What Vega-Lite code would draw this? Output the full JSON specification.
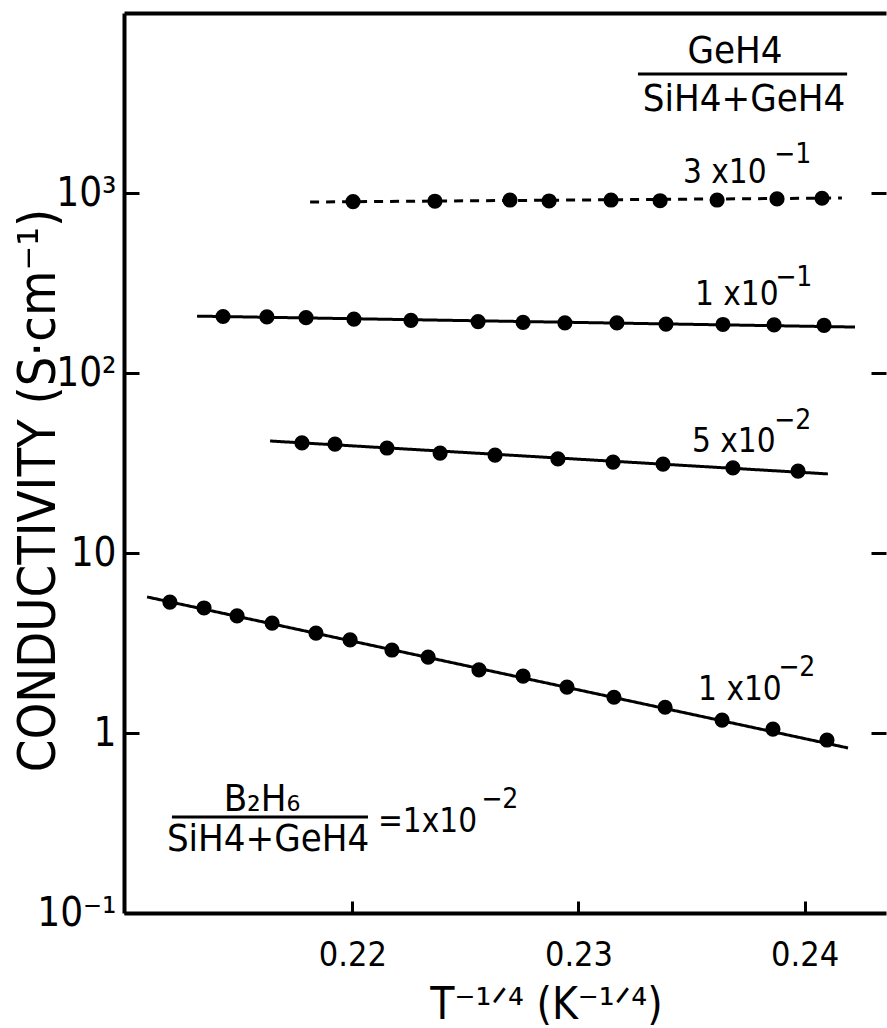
{
  "$schema": "https://vega.github.io/schema/vega-lite/v6.json",
  "width": 762,
  "height": 900,
  "autosize": {"type": "none"},
  "padding": {"left": 124, "top": 13, "right": 1, "bottom": 115},
  "background": "white",
  "config": {
    "view": {"stroke": null},
    "axis": {
      "grid": false,
      "domainColor": "black",
      "domainWidth": 4,
      "tickColor": "black",
      "tickWidth": 3,
      "labelColor": "black",
      "titleColor": "black",
      "labelFont": "DejaVu Sans Condensed",
      "titleFont": "DejaVu Sans Condensed",
      "titleFontWeight": "normal"
    }
  },
  "datasets": {
    "pts": [
      {"s": "0.3", "x": 0.22003, "y": 896},
      {"s": "0.3", "x": 0.22365, "y": 900},
      {"s": "0.3", "x": 0.22697, "y": 914},
      {"s": "0.3", "x": 0.22870, "y": 903},
      {"s": "0.3", "x": 0.23144, "y": 914},
      {"s": "0.3", "x": 0.23361, "y": 906},
      {"s": "0.3", "x": 0.23613, "y": 914},
      {"s": "0.3", "x": 0.23878, "y": 927},
      {"s": "0.3", "x": 0.24077, "y": 935},
      {"s": "0.1", "x": 0.21428, "y": 206},
      {"s": "0.1", "x": 0.21622, "y": 205},
      {"s": "0.1", "x": 0.21795, "y": 203},
      {"s": "0.1", "x": 0.22007, "y": 199},
      {"s": "0.1", "x": 0.22259, "y": 196},
      {"s": "0.1", "x": 0.22556, "y": 193},
      {"s": "0.1", "x": 0.22755, "y": 191},
      {"s": "0.1", "x": 0.22940, "y": 190},
      {"s": "0.1", "x": 0.23170, "y": 190},
      {"s": "0.1", "x": 0.23387, "y": 187},
      {"s": "0.1", "x": 0.23639, "y": 186},
      {"s": "0.1", "x": 0.23865, "y": 185},
      {"s": "0.1", "x": 0.24086, "y": 184},
      {"s": "0.05", "x": 0.21777, "y": 40.9},
      {"s": "0.05", "x": 0.21923, "y": 40.3},
      {"s": "0.05", "x": 0.22153, "y": 38.3},
      {"s": "0.05", "x": 0.22388, "y": 35.9},
      {"s": "0.05", "x": 0.22631, "y": 35.0},
      {"s": "0.05", "x": 0.22909, "y": 33.3},
      {"s": "0.05", "x": 0.23153, "y": 32.0},
      {"s": "0.05", "x": 0.23374, "y": 31.2},
      {"s": "0.05", "x": 0.23683, "y": 29.7},
      {"s": "0.05", "x": 0.23971, "y": 28.5},
      {"s": "0.01", "x": 0.21193, "y": 5.34},
      {"s": "0.01", "x": 0.21344, "y": 4.95},
      {"s": "0.01", "x": 0.21490, "y": 4.47},
      {"s": "0.01", "x": 0.21645, "y": 4.08},
      {"s": "0.01", "x": 0.21839, "y": 3.59},
      {"s": "0.01", "x": 0.21990, "y": 3.29},
      {"s": "0.01", "x": 0.22175, "y": 2.89},
      {"s": "0.01", "x": 0.22335, "y": 2.64},
      {"s": "0.01", "x": 0.22560, "y": 2.24},
      {"s": "0.01", "x": 0.22755, "y": 2.07},
      {"s": "0.01", "x": 0.22949, "y": 1.80},
      {"s": "0.01", "x": 0.23157, "y": 1.58},
      {"s": "0.01", "x": 0.23383, "y": 1.39},
      {"s": "0.01", "x": 0.23635, "y": 1.18},
      {"s": "0.01", "x": 0.23860, "y": 1.05},
      {"s": "0.01", "x": 0.24099, "y": 0.914}
    ],
    "fits": [
      {"s": "0.3", "x": 0.21813, "y": 891},
      {"s": "0.3", "x": 0.24165, "y": 938},
      {"s": "0.1", "x": 0.21313, "y": 207},
      {"s": "0.1", "x": 0.24223, "y": 180},
      {"s": "0.05", "x": 0.21636, "y": 41.9},
      {"s": "0.05", "x": 0.24103, "y": 27.5},
      {"s": "0.01", "x": 0.21092, "y": 5.70},
      {"s": "0.01", "x": 0.24192, "y": 0.826}
    ],
    "fracs": [
      {"x": 0.23692, "y": 6070, "t": "GeH4"},
      {"x": 0.23732, "y": 3285, "t": "SiH4+GeH4"},
      {"x": 0.21600, "y": 0.4246, "t": "B₂H₆"},
      {"x": 0.21627, "y": 0.2545, "t": "SiH4+GeH4"}
    ],
    "bars": [
      {"x": 0.23263, "x2": 0.24188, "y": 4580},
      {"x": 0.21202, "x2": 0.22069, "y": 0.3413}
    ],
    "labels": [
      {"x": 0.23462, "y": 1292, "t": "3 x10"},
      {"x": 0.23515, "y": 271, "t": "1 x10"},
      {"x": 0.23502, "y": 41.4, "t": "5 x10"},
      {"x": 0.23529, "y": 1.734, "t": "1 x10"},
      {"x": 0.22113, "y": 0.3205, "t": "=1x10"}
    ],
    "exps": [
      {"x": 0.23865, "y": 1626, "t": "−1"},
      {"x": 0.23870, "y": 337, "t": "−1"},
      {"x": 0.23865, "y": 54.1, "t": "−2"},
      {"x": 0.23883, "y": 2.296, "t": "−2"},
      {"x": 0.22570, "y": 0.4246, "t": "−2"}
    ]
  },
  "layer": [
    {
      "data": {"name": "fits"},
      "mark": {"type": "line", "color": "black", "strokeWidth": 3},
      "encoding": {
        "x": {
          "field": "x", "type": "quantitative",
          "scale": {"domain": [0.2099, 0.2436], "zero": false, "nice": false},
          "axis": {
            "orient": "bottom",
            "values": [0.22, 0.23, 0.24],
            "format": ".2f",
            "tickSize": -12,
            "labelPadding": 37,
            "labelFontSize": 34,
            "title": "T⁻¹ᐟ⁴   (K⁻¹ᐟ⁴)",
            "titleFontSize": 44,
            "titleX": 422,
            "titleY": 92,
            "titleAlign": "center",
            "titleBaseline": "middle"
          }
        },
        "y": {
          "field": "y", "type": "quantitative",
          "scale": {"type": "log", "domain": [0.1, 10000], "nice": false},
          "axis": {
            "orient": "left",
            "values": [0.1, 1, 10, 100, 1000],
            "labelExpr": "datum.value > 500 ? '10³' : datum.value > 50 ? '10²' : datum.value > 5 ? '10' : datum.value > 0.5 ? '1' : '10⁻¹'",
            "tickSize": -15,
            "labelPadding": 23,
            "labelFontSize": 40,
            "title": "CONDUCTIVITY (S·cm⁻¹)",
            "titleFontSize": 52,
            "titleX": -86,
            "titleY": 477,
            "titleAngle": -90,
            "titleAlign": "center",
            "titleBaseline": "middle"
          }
        },
        "detail": {"field": "s"},
        "strokeDash": {
          "field": "s", "type": "nominal",
          "scale": {"domain": ["0.3", "0.1", "0.05", "0.01"], "range": [[9, 7], [1, 0], [1, 0], [1, 0]]},
          "legend": null
        }
      }
    },
    {
      "data": {"name": "pts"},
      "mark": {"type": "circle", "color": "black", "opacity": 1, "size": 230},
      "encoding": {
        "x": {"field": "x", "type": "quantitative", "axis": null},
        "y": {"field": "y", "type": "quantitative", "axis": null}
      }
    },
    {
      "data": {"name": "bars"},
      "mark": {"type": "rule", "color": "black", "strokeWidth": 3},
      "encoding": {
        "x": {"field": "x", "type": "quantitative", "axis": null},
        "x2": {"field": "x2"},
        "y": {"field": "y", "type": "quantitative", "axis": null}
      }
    },
    {
      "data": {"name": "fracs"},
      "mark": {"type": "text", "color": "black", "font": "DejaVu Sans Condensed", "fontSize": 38, "align": "center", "baseline": "middle"},
      "encoding": {
        "x": {"field": "x", "type": "quantitative", "axis": null},
        "y": {"field": "y", "type": "quantitative", "axis": null},
        "text": {"field": "t"}
      }
    },
    {
      "data": {"name": "labels"},
      "mark": {"type": "text", "color": "black", "font": "DejaVu Sans Condensed", "fontSize": 33, "align": "left", "baseline": "middle"},
      "encoding": {
        "x": {"field": "x", "type": "quantitative", "axis": null},
        "y": {"field": "y", "type": "quantitative", "axis": null},
        "text": {"field": "t"}
      }
    },
    {
      "data": {"name": "exps"},
      "mark": {"type": "text", "color": "black", "font": "DejaVu Sans Condensed", "fontSize": 28, "align": "left", "baseline": "middle"},
      "encoding": {
        "x": {"field": "x", "type": "quantitative", "axis": null},
        "y": {"field": "y", "type": "quantitative", "axis": null},
        "text": {"field": "t"}
      }
    },
    {
      "data": {"name": "pts"},
      "mark": {"type": "point", "opacity": 0},
      "encoding": {
        "x": {
          "field": "x", "type": "quantitative",
          "axis": {"orient": "top", "ticks": false, "labels": false, "title": null, "domain": true}
        },
        "y": {
          "field": "y", "type": "quantitative",
          "axis": {"orient": "right", "values": [1, 10, 100, 1000], "tickSize": -15, "labels": false, "title": null, "domain": false}
        }
      }
    }
  ],
  "resolve": {"axis": {"x": "independent", "y": "independent"}}
}
